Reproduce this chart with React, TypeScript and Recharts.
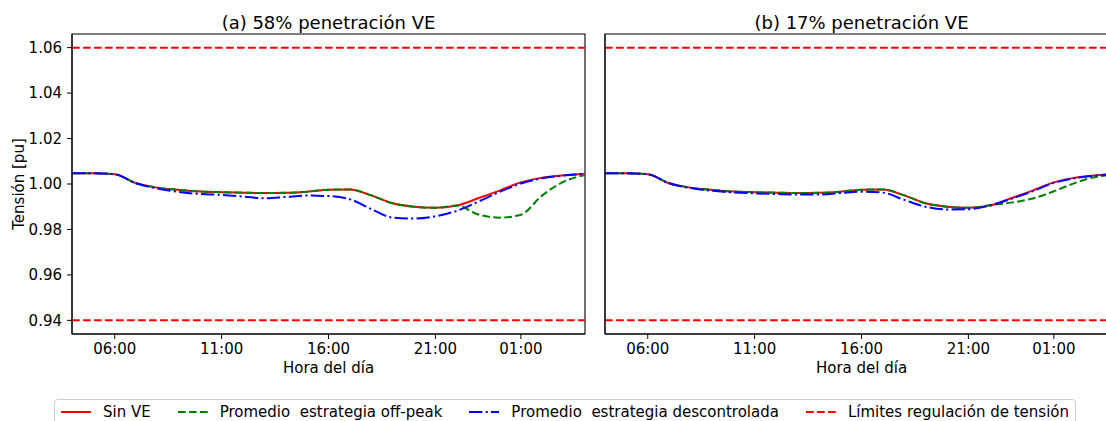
import React from 'react';
import { LineChart, Line, XAxis, YAxis, ReferenceLine, ReferenceArea } from 'recharts';

// Hour of day (04:00 through 04:00 of the next day, 28 = 04:00)
const hours = [4, 5, 6, 7, 8, 9, 10, 11, 12, 13, 14, 15, 16, 17, 18, 19, 20, 21, 22, 23, 24, 25, 26, 27, 28];

// Voltage [pu] without EVs (same network in both scenarios)
const sinVE = [1.0047, 1.0047, 1.0043, 1.0003, 0.9984, 0.9974, 0.9967, 0.9964, 0.9962, 0.996, 0.9961, 0.9966, 0.9975, 0.9976, 0.995, 0.9915, 0.99, 0.9895, 0.9905, 0.9937, 0.9971, 1.0007, 1.0028, 1.0038, 1.0045];

// (a) 58% EV penetration
const offPeakA = [1.0047, 1.0047, 1.0043, 1.0003, 0.9984, 0.9974, 0.9967, 0.9964, 0.9962, 0.996, 0.9961, 0.9966, 0.9975, 0.9976, 0.995, 0.9915, 0.99, 0.9895, 0.9905, 0.9866, 0.9852, 0.9865, 0.995, 1.001, 1.004];
const descontroladaA = [1.0047, 1.0047, 1.0043, 1.0003, 0.998, 0.9965, 0.9956, 0.9952, 0.9945, 0.9937, 0.9943, 0.9949, 0.9947, 0.9933, 0.989, 0.9852, 0.9848, 0.9858, 0.9882, 0.9922, 0.9965, 1.0002, 1.0025, 1.0037, 1.0045];

// (b) 17% EV penetration
const offPeakB = [1.0047, 1.0047, 1.0043, 1.0003, 0.9984, 0.9974, 0.9967, 0.9964, 0.9962, 0.996, 0.9961, 0.9966, 0.9975, 0.9976, 0.995, 0.9915, 0.99, 0.9895, 0.9907, 0.9918, 0.9936, 0.9968, 1.0005, 1.0032, 1.0041];
const descontroladaB = [1.0047, 1.0047, 1.0043, 1.0003, 0.9982, 0.997, 0.9963, 0.9959, 0.9956, 0.9954, 0.9954, 0.996, 0.9966, 0.9962, 0.993, 0.99, 0.9888, 0.9889, 0.9905, 0.9935, 0.9968, 1.0005, 1.0026, 1.0037, 1.0044];

// Voltage regulation limits [pu]
const limits = [0.94, 1.06];

const xTicks = [6, 11, 16, 21, 25];
const yTicks = [0.94, 0.96, 0.98, 1.0, 1.02, 1.04, 1.06];
const xDomain: [number, number] = [4, 28];
const yDomain: [number, number] = [0.934, 1.066];

const titles = ['(a) 58% penetración VE', '(b) 17% penetración VE'];

const legendItems = [
  { label: 'Sin VE', color: '#ff0000', dash: '' },
  { label: 'Promedio  estrategia off-peak', color: '#008000', dash: '7.7 3.3' },
  { label: 'Promedio  estrategia descontrolada', color: '#0000ff', dash: '13.3 3.3 2.1 3.3' },
  { label: 'Límites regulación de tensión', color: '#ff0000', dash: '7.7 3.3' },
];

const FONT = '"DejaVu Sans", sans-serif';
const TICK_FS = 15;

const buildRows = (offPeak: number[], descontrolada: number[]) =>
  hours.map((h, i) => ({ h, sinVE: sinVE[i], offPeak: offPeak[i], descontrolada: descontrolada[i] }));

const rowsA = buildRows(offPeakA, descontroladaA);
const rowsB = buildRows(offPeakB, descontroladaB);

const fmtHour = (h: number) => `${String(h % 24).padStart(2, '0')}:00`;

type PanelProps = {
  rows: ReturnType<typeof buildRows>;
  width: number;
  yAxisWidth: number;
  showYLabels: boolean;
};

function Panel({ rows, width, yAxisWidth, showYLabels }: PanelProps) {
  const tickStyle = { fontSize: TICK_FS, fill: '#000', fontFamily: FONT };
  return (
    <LineChart width={width} height={380} data={rows} margin={{ top: 34, right: 15, bottom: 6, left: 0 }}>
      <XAxis
        dataKey="h"
        type="number"
        domain={xDomain}
        ticks={xTicks}
        tickFormatter={fmtHour}
        allowDataOverflow
        height={40}
        tickSize={5}
        tickMargin={4}
        stroke="#000"
        tick={tickStyle}
        label={{ value: 'Hora del día', position: 'insideBottom', offset: 1, style: { fontSize: TICK_FS, fill: '#000', fontFamily: FONT } }}
      />
      <YAxis
        type="number"
        domain={yDomain}
        ticks={yTicks}
        allowDataOverflow
        width={yAxisWidth}
        tickSize={5}
        tickMargin={5}
        stroke="#000"
        tick={showYLabels ? tickStyle : false}
        tickFormatter={(v: number) => v.toFixed(2)}
        label={
          showYLabels
            ? { value: 'Tensión [pu]', angle: -90, position: 'insideLeft', offset: 19, style: { textAnchor: 'middle', fontSize: TICK_FS, fill: '#000', fontFamily: FONT } }
            : undefined
        }
      />
      {limits.map((v) => (
        <ReferenceLine key={v} y={v} stroke="#ff0000" strokeWidth={2} strokeDasharray="7.7 3.3" />
      ))}
      <Line dataKey="sinVE" type="monotone" stroke="#ff0000" strokeWidth={2} dot={false} isAnimationActive={false} />
      <Line dataKey="offPeak" type="monotone" stroke="#008000" strokeWidth={2} strokeDasharray="7.7 3.3" dot={false} isAnimationActive={false} />
      <Line dataKey="descontrolada" type="monotone" stroke="#0000ff" strokeWidth={2} strokeDasharray="13.3 3.3 2.1 3.3" dot={false} isAnimationActive={false} />
      <ReferenceArea x1={xDomain[0]} x2={xDomain[1]} y1={yDomain[0]} y2={yDomain[1]} fill="none" stroke="#000" strokeWidth={1.1} />
    </LineChart>
  );
}

export default function App() {
  const titleStyle: React.CSSProperties = {
    position: 'absolute',
    width: 513,
    top: 13,
    textAlign: 'center',
    fontSize: 18,
    lineHeight: '19px',
    color: '#000',
    whiteSpace: 'nowrap',
  };
  return (
    <div style={{ position: 'absolute', left: 0, top: 0, width: 1106, height: 421, overflow: 'hidden', background: '#fff', fontFamily: FONT }}>
      <div style={{ position: 'absolute', left: 0, top: 0 }}>
        <Panel rows={rowsA} width={600} yAxisWidth={72} showYLabels />
      </div>
      <div style={{ position: 'absolute', left: 590, top: 0 }}>
        <Panel rows={rowsB} width={543} yAxisWidth={15} showYLabels={false} />
      </div>
      <div style={{ ...titleStyle, left: 72 }}>{titles[0]}</div>
      <div style={{ ...titleStyle, left: 605 }}>{titles[1]}</div>
      <div
        style={{
          position: 'absolute',
          left: 54,
          width: 1022,
          top: 399,
          height: 34,
          border: '1px solid #cccccc',
          borderRadius: 4,
          boxSizing: 'border-box',
          display: 'flex',
          alignItems: 'flex-start',
          paddingLeft: 6,
          paddingTop: 3,
        }}
      >
        {legendItems.map((it, i) => (
          <div key={it.label} style={{ display: 'flex', alignItems: 'center', marginLeft: i === 0 ? 0 : 27, height: 18 }}>
            <svg width={30} height={18} style={{ display: 'block' }}>
              <line x1={0} x2={30} y1={9} y2={9} stroke={it.color} strokeWidth={2} strokeDasharray={it.dash || undefined} />
            </svg>
            <span style={{ marginLeft: 12, fontSize: 15, lineHeight: '18px', whiteSpace: 'pre', color: '#000' }}>{it.label}</span>
          </div>
        ))}
      </div>
    </div>
  );
}
